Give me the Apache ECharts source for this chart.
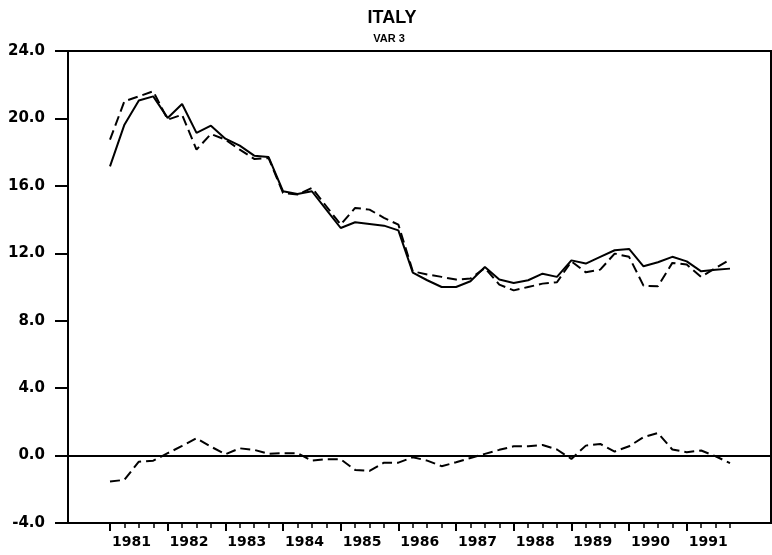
<!DOCTYPE html>
<html>
<head>
<meta charset="UTF-8">
<title>ITALY - VAR 3</title>
<style>
  html, body { margin: 0; padding: 0; background: #fff; }
  #container { width: 772px; height: 555px; }
</style>
<script src="https://cdn.jsdelivr.net/npm/echarts@6/dist/echarts.min.js"></script>
</head>
<body>
<div id="container"></div>
<script>
// quarterly data 1981Q1 .. 1991Q4
var years = [1981, 1982, 1983, 1984, 1985, 1986, 1987, 1988, 1989, 1990, 1991];
var quarters = ['Q1', 'Q2', 'Q3', 'Q4'];

var actual = [17.16, 19.63, 21.06, 21.31, 20.03, 20.86, 19.14, 19.57, 18.80, 18.39, 17.79, 17.71,
  15.68, 15.52, 15.68, 14.59, 13.50, 13.84, 13.74, 13.64, 13.36, 10.85, 10.40, 10.00,
  10.00, 10.34, 11.19, 10.44, 10.24, 10.40, 10.79, 10.60, 11.58, 11.39, 11.79, 12.18,
  12.26, 11.23, 11.47, 11.79, 11.52, 10.93, 11.03, 11.09];

var fitted = [18.74, 21.02, 21.31, 21.61, 19.93, 20.22, 18.15, 19.08, 18.74, 18.15, 17.60, 17.65,
  15.58, 15.48, 15.88, 14.79, 13.70, 14.69, 14.59, 14.10, 13.70, 10.93, 10.74, 10.60,
  10.44, 10.50, 11.13, 10.14, 9.80, 10.00, 10.20, 10.28, 11.52, 10.87, 11.03, 11.98,
  11.79, 10.08, 10.04, 11.43, 11.33, 10.60, 11.13, 11.63];

var resid = [-1.54, -1.44, -0.36, -0.30, 0.14, 0.57, 1.03, 0.53, 0.08, 0.43, 0.34, 0.10,
  0.14, 0.14, -0.30, -0.22, -0.22, -0.85, -0.91, -0.42, -0.42, -0.10, -0.30, -0.63,
  -0.40, -0.14, 0.10, 0.34, 0.55, 0.55, 0.63, 0.36, -0.20, 0.59, 0.69, 0.24,
  0.55, 1.09, 1.34, 0.36, 0.20, 0.30, -0.04, -0.45];

var yTicks = { min: -4, max: 24, step: 4 };

var cats = [];
years.forEach(function (y) {
  quarters.forEach(function (q) { cats.push(y + q); });
});

var chart = echarts.init(document.getElementById('container'), null, { renderer: 'canvas' });

var black = '#000';
var fontY = 'DejaVu Sans';

var option = {
  animation: false,
  backgroundColor: '#fff',
  title: [
    {
      text: 'ITALY', left: 387, top: 4, textAlign: 'center',
      textStyle: { fontFamily: 'Liberation Sans', fontWeight: 'bold', fontSize: 18, color: black }
    },
    {
      text: 'VAR 3', left: 384, top: 28, textAlign: 'center',
      textStyle: { fontFamily: 'Liberation Sans', fontWeight: 'bold', fontSize: 11, color: black }
    }
  ],
  grid: [
    // frame + y axis
    { left: 68, right: 1, top: 51, bottom: 32, show: true, borderColor: black, borderWidth: 2, backgroundColor: 'transparent' },
    // data area (quarters)
    { left: 110, right: 42, top: 51, bottom: 32 }
  ],
  xAxis: [
    {
      // only draws the zero line across the frame
      gridIndex: 0, type: 'value', min: 0, max: 1,
      axisLine: { show: true, onZero: true, lineStyle: { color: black, width: 2 } },
      axisTick: { show: false }, axisLabel: { show: false }, splitLine: { show: false }
    },
    {
      // year ticks + labels
      gridIndex: 1, type: 'category', data: cats, boundaryGap: false, position: 'bottom',
      axisLine: { show: false, onZero: false },
      axisTick: {
        show: true, length: 8, lineStyle: { color: black, width: 2 },
        interval: function (i) { return i % 4 === 0; }
      },
      axisLabel: {
        interval: function (i) { return i % 4 === 1; },
        formatter: function (v) { return v.slice(0, 4); },
        padding: [0, 0, 0, 14], margin: 12,
        fontFamily: fontY, fontWeight: 'bold', fontSize: 14, color: black
      },
      splitLine: { show: false }
    },
    {
      // quarter ticks
      gridIndex: 1, type: 'category', data: cats, boundaryGap: false, position: 'bottom', offset: 0,
      axisLine: { show: false, onZero: false },
      axisTick: { show: true, length: 5, interval: 0, lineStyle: { color: black, width: 1.5 } },
      axisLabel: { show: false }, splitLine: { show: false }
    }
  ],
  yAxis: [
    {
      gridIndex: 0, type: 'value', min: yTicks.min, max: yTicks.max, interval: yTicks.step,
      axisLine: { show: false },
      axisTick: { show: true, length: 13, lineStyle: { color: black, width: 2 } },
      axisLabel: {
        formatter: function (v) { return v.toFixed(1); }, margin: 23,
        fontFamily: fontY, fontWeight: 'bold', fontSize: 15, color: black
      },
      splitLine: { show: false }
    },
    {
      gridIndex: 1, type: 'value', min: yTicks.min, max: yTicks.max, show: false,
      axisLine: { onZero: false }
    }
  ],
  series: [
    {
      name: 'actual', type: 'line', xAxisIndex: 1, yAxisIndex: 1, data: actual,
      symbol: 'none', lineStyle: { color: black, width: 2 }
    },
    {
      name: 'fitted', type: 'line', xAxisIndex: 1, yAxisIndex: 1, data: fitted,
      symbol: 'none', lineStyle: { color: black, width: 2, type: [10, 5] }
    },
    {
      name: 'residual', type: 'line', xAxisIndex: 1, yAxisIndex: 1, data: resid,
      symbol: 'none', lineStyle: { color: black, width: 2, type: [10, 5] }
    }
  ]
};

chart.setOption(option);
</script>
</body>
</html>
